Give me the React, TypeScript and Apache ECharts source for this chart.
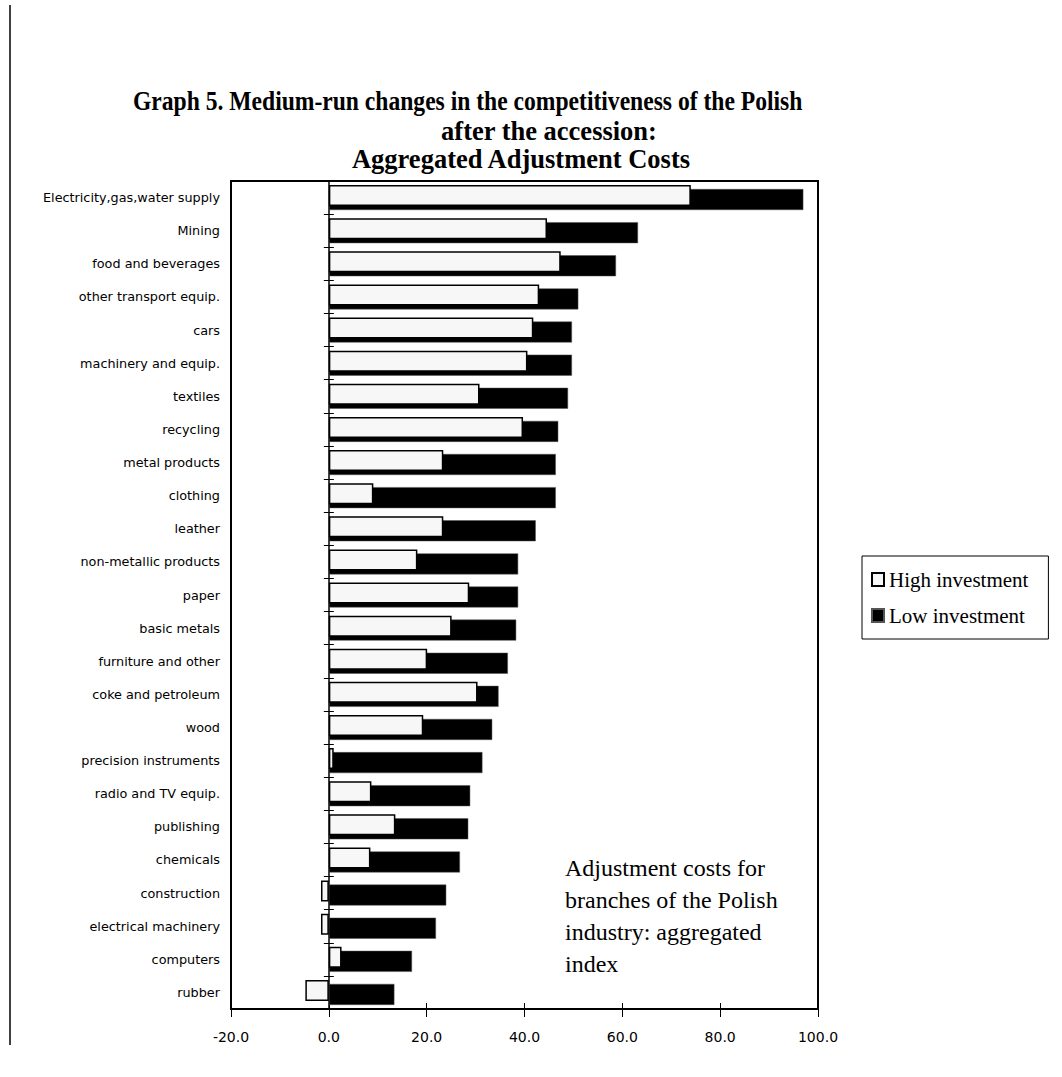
import React, { useEffect, useRef } from "react";
import * as echarts from "echarts";

const categories = [
  "Electricity,gas,water supply",
  "Mining",
  "food and beverages",
  "other transport equip.",
  "cars",
  "machinery and equip.",
  "textiles",
  "recycling",
  "metal products",
  "clothing",
  "leather",
  "non-metallic products",
  "paper",
  "basic metals",
  "furniture and other",
  "coke and petroleum",
  "wood",
  "precision instruments",
  "radio and TV equip.",
  "publishing",
  "chemicals",
  "construction",
  "electrical machinery",
  "computers",
  "rubber",
];

const highInvestment = [
  74.0, 44.6, 47.4, 43.0, 41.8, 40.6, 30.8, 39.7, 23.4, 9.1, 23.4, 18.1, 28.7,
  25.1, 20.1, 30.4, 19.3, 1.0, 8.7, 13.6, 8.5, -1.6, -1.6, 2.6, -4.8,
];

const lowInvestment = [
  97.0, 63.2, 58.7, 51.0, 49.7, 49.7, 48.9, 46.9, 46.4, 46.4, 42.3, 38.7, 38.7,
  38.3, 36.6, 34.7, 33.4, 31.4, 28.9, 28.5, 26.8, 24.0, 21.9, 17.0, 13.4,
];

const seriesNames = ["High investment", "Low investment"];

const titleLines = [
  "Graph 5. Medium-run changes in the competitiveness of the Polish",
  "after the accession:",
  "Aggregated Adjustment Costs",
];

const noteText =
  "Adjustment costs for\nbranches of the Polish\nindustry: aggregated\nindex";

const X_MIN = -20;
const X_MAX = 100;
const X_STEP = 20;

export default function App() {
  const ref = useRef<HTMLDivElement>(null);

  useEffect(() => {
    if (!ref.current) return;
    const chart = echarts.init(ref.current, undefined, { renderer: "svg" });

    const titleFont = {
      fontFamily: "Liberation Serif",
      fontWeight: "bold" as const,
      fontSize: 26.5,
      fill: "#000",
      verticalAlign: "middle" as const,
    };

    const hiddenCatAxis = (inside: boolean, showLine: boolean) => ({
      type: "category",
      data: categories,
      inverse: true,
      position: "left",
      axisLine: {
        show: showLine,
        onZero: true,
        lineStyle: { color: "#000", width: 1.5 },
      },
      axisTick: {
        show: true,
        inside,
        length: 5,
        lineStyle: { color: "#000", width: 1 },
      },
      axisLabel: { show: false },
      splitLine: { show: false },
    });

    chart.setOption({
      animation: false,
      backgroundColor: "#fff",
      grid: {
        left: 231,
        top: 181,
        width: 587,
        height: 828,
        show: true,
        borderColor: "#000",
        borderWidth: 2,
        backgroundColor: "transparent",
        containLabel: false,
      },
      legend: {
        orient: "vertical",
        left: 862,
        top: 556,
        padding: [13, 20, 13, 9],
        itemGap: 15,
        itemWidth: 12,
        itemHeight: 13,
        icon: "rect",
        selectedMode: false,
        borderColor: "#000",
        borderWidth: 1,
        backgroundColor: "#fff",
        textStyle: {
          fontFamily: "Liberation Serif",
          fontSize: 21,
          color: "#000",
        },
        data: seriesNames,
      },
      xAxis: [
        {
          type: "value",
          min: X_MIN,
          max: X_MAX,
          interval: X_STEP,
          position: "bottom",
          axisLine: { show: true, onZero: false, lineStyle: { color: "#000", width: 2 } },
          axisTick: { show: true, length: 8, lineStyle: { color: "#000", width: 1 } },
          axisLabel: {
            formatter: (v: number) => v.toFixed(1),
            fontFamily: "DejaVu Sans",
            fontSize: 14,
            color: "#000",
            margin: 21,
          },
          splitLine: { show: false },
        },
        {
          type: "value",
          min: X_MIN,
          max: X_MAX,
          interval: X_STEP,
          position: "bottom",
          offset: 0,
          axisLine: { show: false, onZero: false },
          axisTick: { show: true, inside: true, length: 6, lineStyle: { color: "#000", width: 1 } },
          axisLabel: { show: false },
          splitLine: { show: false },
        },
      ],
      yAxis: [
        {
          type: "category",
          data: categories,
          inverse: true,
          position: "left",
          axisLine: { show: false, onZero: false },
          axisTick: { show: false },
          axisLabel: {
            fontFamily: "DejaVu Sans",
            fontSize: 12.8,
            color: "#000",
            margin: 11,
          },
          splitLine: { show: false },
        },
        hiddenCatAxis(false, true),
        hiddenCatAxis(true, false),
      ],
      series: [
        {
          name: seriesNames[0],
          type: "bar",
          data: highInvestment,
          barWidth: 21,
          barGap: "-81%",
          z: 3,
          itemStyle: { color: "#f7f7f7", borderColor: "#000", borderWidth: 1.5 },
        },
        {
          name: seriesNames[1],
          type: "bar",
          data: lowInvestment,
          barWidth: 21,
          barGap: "-81%",
          z: 2,
          itemStyle: { color: "#000", borderColor: "#555", borderWidth: 0.5 },
        },
      ],
      graphic: [
        {
          type: "line",
          shape: { x1: 10, y1: 5, x2: 10, y2: 1045 },
          style: { stroke: "#000", lineWidth: 1.5 },
        },
        {
          type: "text",
          x: 133,
          y: 101,
          scaleX: 0.89,
          style: { ...titleFont, text: titleLines[0], align: "left" },
        },
        {
          type: "text",
          x: 549,
          y: 131,
          style: { ...titleFont, text: titleLines[1], align: "center" },
        },
        {
          type: "text",
          x: 521,
          y: 159,
          style: { ...titleFont, text: titleLines[2], align: "center" },
        },
        {
          type: "text",
          x: 565,
          y: 852,
          z: 10,
          style: {
            text: noteText,
            fontFamily: "Liberation Serif",
            fontSize: 24,
            lineHeight: 32,
            fill: "#000",
            align: "left",
            verticalAlign: "top",
          },
        },
      ],
    });

    return () => chart.dispose();
  }, []);

  return (
    <div
      ref={ref}
      style={{ position: "fixed", left: 0, top: 0, width: 1062, height: 1077 }}
    />
  );
}
